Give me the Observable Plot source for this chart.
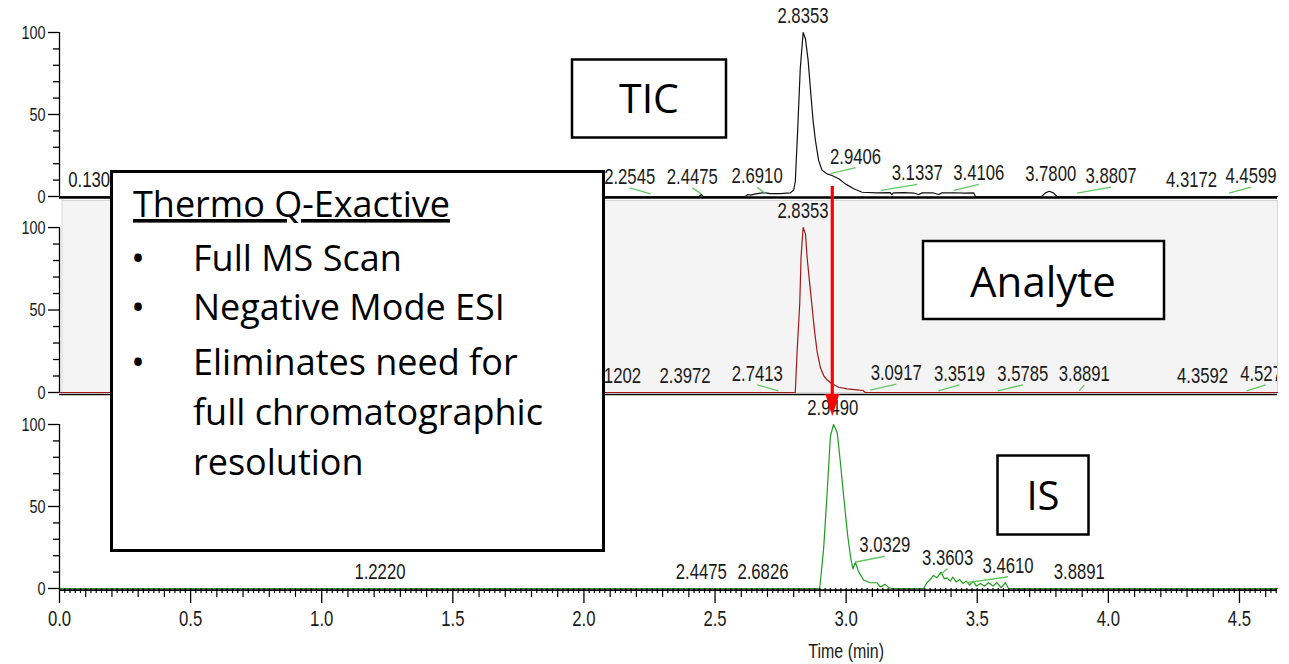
<!DOCTYPE html>
<html><head><meta charset="utf-8">
<script src="https://cdn.jsdelivr.net/npm/d3@7"></script>
<script src="https://cdn.jsdelivr.net/npm/@observablehq/plot@0.6"></script>
<style>
html,body{margin:0;padding:0;background:#fff;}
#wrap{position:relative;width:1289px;height:664px;overflow:hidden;background:#fff;}
#wrap > .panel{position:absolute;left:0;overflow:visible;}
#overlay{position:absolute;left:0;top:0;pointer-events:none;}
</style></head><body><div id="wrap"></div>
<script>
// ---------- data ----------
const ticTime  = [0, 2.400, 2.440, 2.4475, 2.455, 2.615, 2.625, 2.635, 2.655, 2.686, 2.711, 2.750, 2.787, 2.800, 2.806, 2.815, 2.825, 2.836, 2.845, 2.855, 2.864, 2.874, 2.883, 2.895, 2.908, 2.927, 2.946, 2.972, 2.997, 3.029, 3.061, 3.118, 3.168, 3.174, 3.180, 3.220, 3.260, 3.277, 3.290, 3.330, 3.353, 3.365, 3.410, 3.450, 3.486, 3.493, 3.745, 3.760, 3.775, 3.790, 3.805, 4.645];
const ticValue = [0, 0, 0, 1.2, 0, 0, 1.2, 0.8, 1.6, 2.4, 1.8, 1.8, 2.2, 4, 9, 40, 78, 100, 96, 83, 65, 46, 34, 22, 16, 13.8, 12.8, 10.8, 7.7, 4.7, 2.6, 2.2, 2.4, 1.2, 2.2, 2.4, 2.0, 1.2, 2.2, 2.3, 1.2, 2.2, 2.3, 2.0, 2.2, 0, 0, 2.2, 3.2, 2.2, 0, 0];

const anaTime  = [0, 2.806, 2.813, 2.823, 2.828, 2.836, 2.845, 2.851, 2.861, 2.870, 2.879, 2.889, 2.902, 2.915, 2.927, 2.946, 2.972, 3.003, 3.042, 3.065, 3.073, 4.645];
const anaValue = [0, 0, 25, 54, 82, 100, 96, 82, 66, 52, 38, 25, 15, 10, 7.7, 5.3, 3.2, 2.2, 1.6, 1.2, 0, 0];

const isTime  = [0, 2.899, 2.914, 2.927, 2.940, 2.952, 2.966, 2.978, 2.990, 3.006, 3.018, 3.026, 3.035, 3.048, 3.067, 3.092, 3.118, 3.130, 3.149, 3.162, 3.175, 3.295, 3.308, 3.321, 3.333, 3.346, 3.362, 3.374, 3.385, 3.397, 3.407, 3.420, 3.433, 3.446, 3.458, 3.471, 3.484, 3.497, 3.512, 3.527, 3.543, 3.560, 3.575, 3.591, 3.607, 3.619, 4.645];
const isValue = [0, 0, 24, 57, 93, 100, 95, 77, 57, 32, 18, 12, 16, 10, 5, 3.5, 3.5, 1, 2.5, 0.5, 0, 0, 3.5, 5.5, 8, 6.5, 10, 6, 6.5, 4.5, 7, 4, 5.5, 3, 4.5, 2, 4.5, 1.5, 3, 1.5, 3.5, 1.5, 3.5, 0.5, 3.5, 0, 0];

// peak labels: retention times and the intensity at which each is annotated
const ticLabelTimes   = [0.1307, 2.2545, 2.4475, 2.6910, 2.8353, 2.9406, 3.1337, 3.4106, 3.7800, 3.8807, 4.3172, 4.4599];
const ticLabelHeights = [0, 1.6, 1.6, 2, 100, 14, 3.7, 3.7, 3.2, 2, 0, 2];
const anaLabelTimes   = [2.1202, 2.3972, 2.7413, 2.8353, 3.0917, 3.3519, 3.5785, 3.8891, 4.3592, 4.5275];
const anaLabelHeights = [0, 0, 1, 100, 1.5, 1, 1, 1, 0, 1];
const isLabelTimes    = [1.2220, 2.4475, 2.6826, 2.9490, 3.0329, 3.3603, 3.4610, 3.8891];
const isLabelHeights  = [0, 0, 0, 100, 16, 8.5, 3.5, 0];

// tick labels
const xTickLabels = [0, 0.5, 1.0, 1.5, 2.0, 2.5, 3.0, 3.5, 4.0, 4.5];
const yTickLabels = [0, 50, 100];

// ---------- layout (not data) ----------
const ticLabelDx = [0, -21, -9, -8, 0, 25, 36, 25, 0, 34, 0, 22];
const anaLabelDx = [0, -3, -21, 0, 26, 21, 25, 5, 0, 19];
const isLabelDx  = [0, 0, 0, 0, 30, 7, 41, 0];
const W = 1289, ML = 59, MR = 12;
const xDomain = [0, 4.645];
const pxPerMin = (W - ML - MR) / (xDomain[1] - xDomain[0]);
const FONT = "'Liberation Sans', Arial, sans-serif";
const NARROW = 0.76;
const timeLabelAt = 3.0;
const arrowTime = isLabelTimes[3];

const minorX = d3.range(0, 233).filter(i => i % 5 !== 0).map(i => i * 0.02);
const mediumX = d3.range(0, 47).filter(i => i % 5 !== 0).map(i => i / 10);
const minorY = d3.range(1, 10).filter(i => i !== 5).map(i => i * 10);

function makePanel(o) {
  const n = Math.min(o.time.length, o.value.length);
  const series = d3.range(n).map(i => ({t: o.time[i], v: o.value[i]}));
  const labels = o.lt.map((t, i) => ({t, v: o.lh[i], dx: o.ldx[i]}));
  const pxPerUnit = (o.height - o.mt - o.mb) / o.yMax;
  const marks = [];
  if (o.grey) marks.push(Plot.frame({fill: "#f4f4f4", stroke: "#d6d6d6", insetLeft: 2.5}));
  marks.push(Plot.ruleY([0], {stroke: "#000", strokeWidth: o.baseW, dy: o.baseDy}));
  marks.push(Plot.line(series, {x: "t", y: "v", stroke: o.color, strokeWidth: 1.2}));
  marks.push(Plot.link(labels.filter(d => Math.abs(d.dx) >= 5), {
    x1: "t", y1: "v",
    x2: d => d.t + d.dx / pxPerMin, y2: d => d.v + 6 / pxPerUnit,
    stroke: "#62c862", strokeWidth: 1.3, clip: o.clipLabels
  }));
  marks.push(Plot.text(labels, {
    x: d => d.t + d.dx / pxPerMin, y: "v", text: d => d3.format(".4f")(d.t),
    dy: -17, fontSize: 22, fill: "#1a1a1a", lineAnchor: "middle", clip: o.clipLabels
  }));
  // y axis
  marks.push(Plot.ruleX([0], {y1: 0, y2: 100, stroke: "#000", strokeWidth: 1.3}));
  marks.push(Plot.axisY({ticks: minorY, tickSize: 6, tickFormat: () => "", label: null, strokeWidth: 1.3}));
  marks.push(Plot.axisY({ticks: yTickLabels, tickSize: 11, tickPadding: 3, fontSize: 19, tickFormat: d => String(d), label: null, strokeWidth: 1.3, fill: "#1a1a1a"}));
  if (o.bottomAxis) {
    marks.push(Plot.axisX({ticks: minorX, tickSize: 5, tickFormat: () => "", label: null, strokeWidth: 1.2}));
    marks.push(Plot.axisX({ticks: mediumX, tickSize: 9, tickFormat: () => "", label: null, strokeWidth: 1.2}));
    marks.push(Plot.axisX({ticks: xTickLabels, tickSize: 15, tickPadding: 7, fontSize: 22, tickFormat: d3.format(".1f"), label: null, strokeWidth: 1.3, fill: "#1a1a1a"}));
    marks.push(Plot.text(["Time (min)"], {x: () => timeLabelAt, text: d => d, frameAnchor: "bottom", dy: 63, lineAnchor: "middle", fontSize: 21, fill: "#1a1a1a"}));
  }
  const p = Plot.plot({
    width: W, height: o.height,
    marginLeft: ML, marginRight: MR, marginTop: o.mt, marginBottom: o.mb,
    x: {domain: xDomain, ...(o.bottomAxis ? {} : {axis: null})},
    y: {domain: [0, o.yMax]},
    style: {fontFamily: FONT, background: "transparent", color: "#000", overflow: "visible"},
    marks
  });
  p.classList.add("panel");
  p.style.top = o.top + "px";
  return p;
}

const wrap = document.getElementById("wrap");
const tic = makePanel({time: ticTime, value: ticValue, color: "#111", lt: ticLabelTimes, lh: ticLabelHeights, ldx: ticLabelDx,
  top: 0, height: 200, mt: 32, mb: 4, yMax: 100, baseW: 2.6, baseDy: 1});
const ana = makePanel({time: anaTime, value: anaValue, color: "#a01818", lt: anaLabelTimes, lh: anaLabelHeights, ldx: anaLabelDx,
  top: 200, height: 196, mt: 0, mb: 4, yMax: 116.4, grey: true, baseW: 1.6, baseDy: 2, clipLabels: true});
const iso = makePanel({time: isTime, value: isValue, color: "#1f9a1f", lt: isLabelTimes, lh: isLabelHeights, ldx: isLabelDx,
  top: 396, height: 268, mt: 28, mb: 76, yMax: 100, baseW: 1.6, baseDy: 1.6, bottomAxis: true});
[tic, ana, iso].forEach(p => wrap.appendChild(p));

// condensed chromatography-software lettering: squeeze each label horizontally about its anchor
[tic, ana, iso].forEach(p => {
  p.querySelectorAll("text").forEach(t => {
    if (!t.textContent) return;
    const x = +(t.getAttribute("x") || 0);
    const prev = t.getAttribute("transform") || "";
    t.setAttribute("transform", `${prev} translate(${x},0) scale(${NARROW},1) translate(${-x},0)`.trim());
  });
});

// ---------- annotation overlay ----------
const ov = d3.create("svg").attr("id", "overlay").attr("width", W).attr("height", 664)
  .style("font-family", "'Open Sans', 'Noto Sans', sans-serif");

// arrow from TIC shoulder down to the IS apex
const ax = iso.scale("x").apply(arrowTime);
ov.append("line").attr("x1", ax).attr("x2", ax).attr("y1", 186).attr("y2", 398)
  .attr("stroke", "#ff0000").attr("stroke-width", 3.2);
ov.append("path").attr("d", `M${ax - 7},394L${ax + 7},394L${ax},416Z`).attr("fill", "#ff0000");

function box(x, y, w, h, sw) {
  ov.append("rect").attr("x", x).attr("y", y).attr("width", w).attr("height", h)
    .attr("fill", "#fff").attr("stroke", "#000").attr("stroke-width", sw);
}
function label(x, y, s, size, anchor = "middle", extra) {
  const t = ov.append("text").attr("x", x).attr("y", y).attr("font-size", size)
    .attr("text-anchor", anchor).attr("fill", "#000").text(s);
  if (extra) extra(t);
  return t;
}

box(111.5, 171.5, 492, 379, 3);
label(133, 217, "Thermo Q-Exactive", 36, "start", t => t.attr("text-decoration", "underline"));
const bulletLines = [["Full MS Scan", 271, true], ["Negative Mode ESI", 320, true], ["Eliminates need for", 375, true],
                     ["full chromatographic", 425, false], ["resolution", 475, false]];
bulletLines.forEach(([s, y, b]) => {
  if (b) label(138, y, "\u2022", 36, "middle");
  label(193, y, s, 36, "start");
});

box(572, 59.5, 154, 78, 2.5);
label(649, 113, "TIC", 41);
box(923, 241, 241, 78, 2.5);
label(1043, 297, "Analyte", 42);
box(997.5, 455.5, 91, 79, 2.5);
label(1043, 510, "IS", 40);

wrap.appendChild(ov.node());
</script></body></html>
